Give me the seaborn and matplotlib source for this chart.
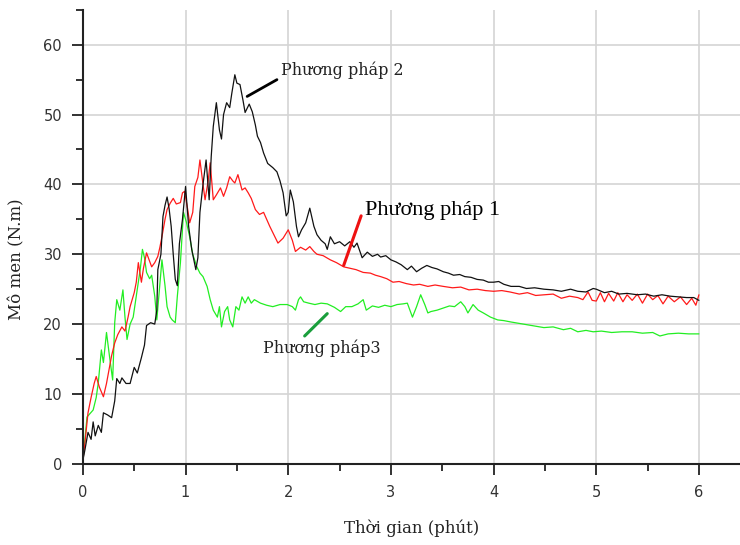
import numpy as np
import pandas as pd
import seaborn as sns
import matplotlib.pyplot as plt
from matplotlib.ticker import MultipleLocator

# Phuong phap 1 (red)
t1 = [0.0, 0.02, 0.05, 0.08, 0.11, 0.13, 0.16, 0.2, 0.23, 0.26, 0.28, 0.31, 0.34, 0.38, 0.41, 0.44,
      0.46, 0.5, 0.52, 0.54, 0.57, 0.59, 0.62, 0.65, 0.67, 0.7, 0.73, 0.75, 0.77, 0.8, 0.82, 0.85,
      0.88, 0.91, 0.95, 0.97, 0.99, 1.02, 1.04, 1.07, 1.09, 1.12, 1.14, 1.17, 1.19, 1.22, 1.24, 1.27,
      1.3, 1.34, 1.37, 1.4, 1.43, 1.46, 1.48, 1.51, 1.55, 1.58, 1.61, 1.64, 1.68, 1.72, 1.76, 1.79,
      1.82, 1.85, 1.9, 1.95, 2.0, 2.04, 2.07, 2.12, 2.17, 2.21, 2.25, 2.28, 2.34, 2.41, 2.47, 2.54,
      2.6, 2.66, 2.73, 2.8, 2.85, 2.9, 2.96, 3.02, 3.08, 3.15, 3.22, 3.28, 3.36, 3.43, 3.51, 3.6,
      3.68, 3.76, 3.84, 3.92, 4.0, 4.08, 4.16, 4.25, 4.33, 4.41, 4.49, 4.58, 4.66, 4.74, 4.82, 4.87,
      4.92, 4.96, 5.0, 5.04, 5.08, 5.12, 5.17, 5.21, 5.26, 5.3, 5.35, 5.4, 5.45, 5.5, 5.55, 5.6,
      5.65, 5.7, 5.76, 5.82, 5.88, 5.93, 5.97, 6.0]
m1 = [0.5, 3.0, 7.3, 9.5, 11.5, 12.5, 11.0, 9.6, 11.5, 13.9, 15.5, 17.3, 18.5, 19.6, 19.0, 21.0,
      22.5, 24.5, 26.0, 28.8, 26.0, 28.0, 30.2, 29.0, 28.2, 28.8, 29.7, 31.0, 32.5, 35.0, 36.4, 37.3,
      38.0, 37.2, 37.4, 38.8, 39.0, 36.5, 34.5, 36.0, 39.7, 41.0, 43.5, 40.0, 37.8, 40.5, 43.1, 37.8,
      38.5, 39.5, 38.3, 39.5, 41.1, 40.5, 40.2, 41.4, 39.2, 39.5, 38.8, 38.0, 36.4, 35.7, 36.0, 35.0,
      34.0, 33.1, 31.6, 32.3, 33.5, 32.0, 30.4, 31.0, 30.6, 31.1, 30.4, 30.0, 29.8, 29.2, 28.8, 28.2,
      28.0, 27.8, 27.4, 27.3, 27.0, 26.8, 26.5, 26.0, 26.1, 25.8, 25.6, 25.7, 25.4, 25.6, 25.4, 25.2,
      25.3, 24.9, 25.0, 24.8, 24.7, 24.8, 24.6, 24.3, 24.5, 24.1, 24.2, 24.3, 23.7, 24.0, 23.8, 23.5,
      24.6, 23.4, 23.3, 24.5, 23.2, 24.4, 23.3, 24.5, 23.2, 24.2, 23.4, 24.3, 23.0, 24.3, 23.5, 24.1,
      22.9, 24.0, 23.2, 23.9, 22.8, 23.7, 22.7, 24.2]

# Phuong phap 2 (black)
t2 = [0.0, 0.02, 0.05, 0.08, 0.1, 0.12, 0.15, 0.18, 0.2, 0.24, 0.28, 0.31, 0.33, 0.36, 0.38, 0.42,
      0.46, 0.5, 0.53, 0.57, 0.6, 0.62, 0.66, 0.7, 0.72, 0.73, 0.76, 0.78, 0.8, 0.82, 0.84, 0.86,
      0.88, 0.9, 0.92, 0.94, 0.97, 1.0, 1.03, 1.06, 1.1, 1.12, 1.14, 1.17, 1.2, 1.23, 1.25, 1.27,
      1.3, 1.33, 1.35, 1.37, 1.4, 1.43, 1.45, 1.48, 1.5, 1.53, 1.56, 1.58, 1.62, 1.65, 1.68, 1.7,
      1.73, 1.76, 1.8, 1.85, 1.89, 1.92, 1.95, 1.98, 2.0, 2.02, 2.05, 2.08, 2.1, 2.13, 2.17, 2.21,
      2.25, 2.28, 2.32, 2.36, 2.38, 2.41, 2.45, 2.5, 2.55, 2.6, 2.64, 2.67, 2.72, 2.77, 2.82, 2.87,
      2.9, 2.95, 3.0, 3.05, 3.1, 3.16, 3.2, 3.25, 3.3, 3.35, 3.4, 3.45, 3.51, 3.56, 3.61, 3.67,
      3.72, 3.78, 3.84, 3.9, 3.95, 4.0, 4.05, 4.1, 4.17, 4.25, 4.32, 4.4, 4.49, 4.58, 4.66, 4.75,
      4.82, 4.9, 4.97, 5.0, 5.08, 5.15, 5.22, 5.3, 5.4, 5.48, 5.56, 5.64, 5.72, 5.8, 5.88, 5.95, 6.0]
m2 = [0.5, 2.0, 4.5, 3.5, 6.0, 4.0, 5.5, 4.5, 7.3, 7.0, 6.6, 9.0, 12.2, 11.5, 12.3, 11.5,
      11.5, 13.8, 13.0, 15.2, 17.0, 19.8, 20.2, 20.0, 22.0, 27.8, 30.0, 35.4, 37.0, 38.2, 36.5, 34.0,
      30.0, 26.4, 25.5, 31.5, 35.0, 39.7, 34.0, 30.7, 27.8, 29.5, 36.0, 40.0, 43.5, 37.8, 44.0, 48.3,
      51.7, 47.8, 46.5, 50.0, 51.7, 51.0, 53.0, 55.7, 54.5, 54.3, 52.0, 50.3, 51.5, 50.4, 48.5, 46.9,
      46.0, 44.5, 43.0, 42.4, 41.8, 40.5, 38.8, 35.5, 36.0, 39.2, 37.5, 34.0, 32.5, 33.5, 34.5, 36.6,
      34.0, 32.8, 32.0, 31.5, 30.7, 32.5, 31.5, 31.8, 31.2, 31.8, 31.0, 31.6, 29.5, 30.3, 29.7, 30.0,
      29.6, 29.8, 29.2, 28.9, 28.5, 27.8, 28.3, 27.5, 28.0, 28.4, 28.1, 27.9, 27.5, 27.3, 27.0, 27.1,
      26.8, 26.7, 26.4, 26.3, 26.0, 26.0, 26.1, 25.7, 25.4, 25.4, 25.1, 25.2, 25.0, 24.9, 24.7, 25.0,
      24.7, 24.6, 25.1, 25.0, 24.5, 24.7, 24.3, 24.4, 24.2, 24.3, 24.0, 24.2, 24.0, 23.9, 23.8, 23.8, 23.4]

# Phuong phap 3 (green)
t3 = [0.0, 0.02, 0.04, 0.07, 0.1, 0.13, 0.15, 0.18, 0.2, 0.23, 0.26, 0.29, 0.31, 0.33, 0.36, 0.39,
      0.41, 0.43, 0.46, 0.49, 0.52, 0.54, 0.56, 0.58, 0.6, 0.62, 0.65, 0.67, 0.7, 0.72, 0.74, 0.77,
      0.8, 0.82, 0.85, 0.87, 0.9, 0.92, 0.95, 0.98, 1.01, 1.04, 1.07, 1.11, 1.14, 1.17, 1.21, 1.24,
      1.27, 1.31, 1.33, 1.35, 1.38, 1.41, 1.43, 1.46, 1.49, 1.52, 1.55, 1.58, 1.61, 1.64, 1.67, 1.73,
      1.79, 1.85, 1.92, 1.99, 2.04, 2.07, 2.1, 2.12, 2.15, 2.2, 2.26, 2.32, 2.38, 2.45, 2.51, 2.56,
      2.62, 2.68, 2.73, 2.76, 2.82, 2.88, 2.94, 3.0, 3.06, 3.12, 3.16, 3.21, 3.25, 3.29, 3.33, 3.36,
      3.39, 3.45, 3.51, 3.57, 3.62, 3.68, 3.72, 3.75, 3.8, 3.85, 3.9, 3.97, 4.04, 4.1, 4.17, 4.25,
      4.33, 4.41, 4.49, 4.58, 4.68, 4.75, 4.82, 4.9, 4.97, 5.05, 5.15, 5.25, 5.35, 5.45, 5.55, 5.62,
      5.7, 5.8, 5.9, 6.0]
m3 = [0.5, 3.5, 6.7, 7.2, 7.7, 9.5, 11.6, 16.3, 14.5, 18.8, 15.3, 12.0, 20.2, 23.5, 22.0, 24.9,
      21.0, 17.8, 20.0, 21.0, 24.0, 25.9, 28.0, 30.7, 29.5, 27.4, 26.5, 27.0, 24.0, 20.6, 24.0, 29.2,
      25.5, 22.5, 21.0, 20.6, 20.2, 24.0, 28.8, 36.0, 34.5, 32.5, 30.0, 28.2, 27.3, 26.8, 25.4, 23.5,
      22.0, 21.0, 22.5, 19.6, 21.8, 22.5, 20.6, 19.6, 22.5, 22.0, 23.9, 23.0, 23.9, 23.0, 23.5, 23.0,
      22.7, 22.5, 22.8, 22.8, 22.5, 22.0, 23.5, 23.9, 23.2, 23.0, 22.8, 23.0, 22.9, 22.4, 21.8, 22.5,
      22.5, 22.9, 23.5, 22.0, 22.6, 22.4, 22.7, 22.5, 22.8, 22.9, 23.0, 21.0, 22.5, 24.2, 22.8, 21.6,
      21.8, 22.0, 22.3, 22.6, 22.5, 23.2, 22.5, 21.6, 22.8, 22.0, 21.6, 21.0, 20.6, 20.5, 20.3, 20.1,
      19.9, 19.7, 19.5, 19.6, 19.2, 19.4, 18.9, 19.1, 18.9, 19.0, 18.8, 18.9, 18.9, 18.7, 18.8, 18.3,
      18.6, 18.7, 18.6, 18.6]

sns.set_style("white")
plt.rcParams['font.family'] = ['DejaVu Sans']

fig = plt.figure(figsize=(7.4, 5.45), dpi=100)
ax = fig.add_axes([0.112, 0.149, 0.888, 0.833])

ax.grid(True, color='#d4d4d4', linewidth=1.2)
ax.set_axisbelow(True)

df1 = pd.DataFrame({'t': t1, 'm': m1})
df2 = pd.DataFrame({'t': t2, 'm': m2})
df3 = pd.DataFrame({'t': t3, 'm': m3})
sns.lineplot(data=df3, x='t', y='m', ax=ax, color='#22ee22', linewidth=0.9, sort=False, estimator=None)
sns.lineplot(data=df1, x='t', y='m', ax=ax, color='#ff1a1a', linewidth=0.9, sort=False, estimator=None)
sns.lineplot(data=df2, x='t', y='m', ax=ax, color='#111111', linewidth=0.9, sort=False, estimator=None)

ax.set_xlim(0, 6.4)
ax.set_ylim(0, 65)
ax.xaxis.set_major_locator(MultipleLocator(1))
ax.xaxis.set_minor_locator(MultipleLocator(0.5))
ax.yaxis.set_major_locator(MultipleLocator(10))
ax.yaxis.set_minor_locator(MultipleLocator(5))
ax.tick_params(which='major', direction='out', length=8, width=1.3, color='#222222',
               labelsize=10.5, labelcolor='#333333', pad=7)
ax.tick_params(which='minor', direction='out', length=5, width=1.3, color='#222222')
ax.tick_params(axis='x', which='both', bottom=True)
ax.tick_params(axis='y', which='both', left=True)

for s in ['top', 'right']:
    ax.spines[s].set_visible(False)
for s in ['left', 'bottom']:
    ax.spines[s].set_color('#222222')
    ax.spines[s].set_linewidth(1.5)

ax.set_xlabel('Thời gian (phút)', family='DejaVu Serif', fontsize=12, color='#222222', labelpad=14)
ax.set_ylabel('Mô men (N.m)', family='DejaVu Serif', fontsize=12, color='#222222', labelpad=12)
ax.yaxis.set_label_coords(-0.088, 0.45)

# annotations
ax.plot([1.6, 1.89], [52.6, 55.0], color='black', linewidth=2)
ax.text(1.93, 56.4, 'Phương pháp 2', family='DejaVu Serif', fontsize=11.5, color='#222222', va='center')
ax.plot([2.54, 2.71], [28.4, 35.5], color='#ee1111', linewidth=2.2)
ax.text(2.75, 36.2, 'Phương pháp 1', family='Liberation Serif', fontsize=16, color='black', va='center')
ax.plot([2.16, 2.38], [18.3, 21.5], color='#1a9e3c', linewidth=2.2)
ax.text(1.75, 16.6, 'Phương pháp3', family='DejaVu Serif', fontsize=11.5, color='#222222', va='center')

fig.savefig('out.png', dpi=100)
